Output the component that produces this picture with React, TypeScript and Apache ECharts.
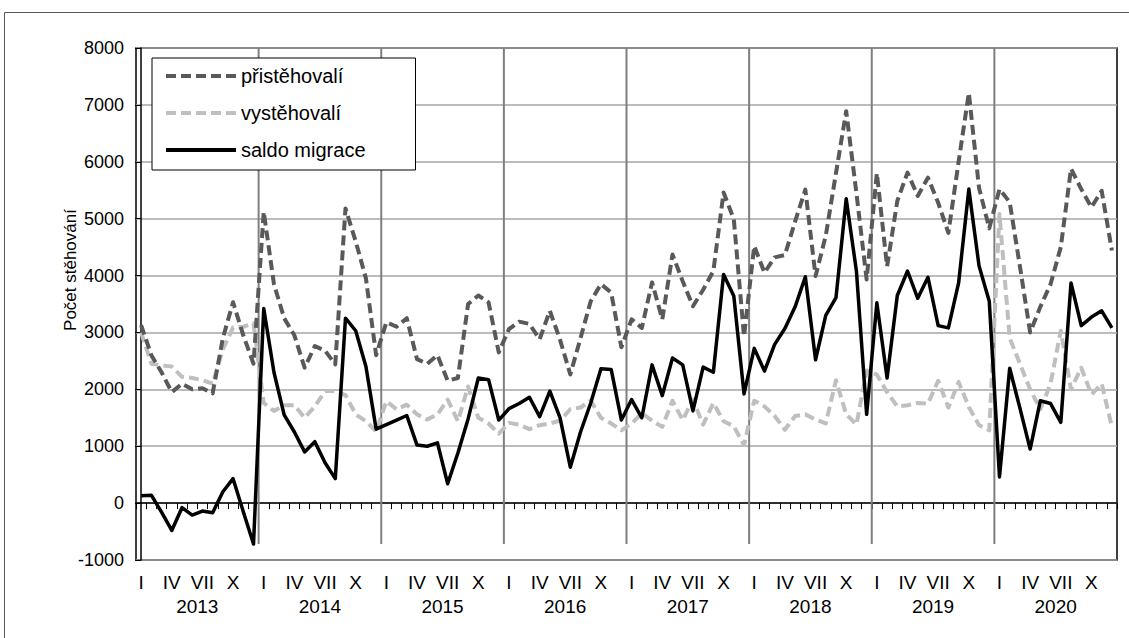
import React, { useEffect, useRef } from 'react';
import * as echarts from 'echarts';

const years = ['2013', '2014', '2015', '2016', '2017', '2018', '2019', '2020'];
const monthLabels = ['I', '', '', 'IV', '', '', 'VII', '', '', 'X', '', ''];
const yTicks = { min: -1000, max: 8000, interval: 1000 };

const pristehovali = [
  3130, 2600, 2300, 1950, 2100, 2000, 2020, 1930, 2900, 3530, 2950, 2450,
  5120, 3850, 3250, 2950, 2380, 2760, 2680, 2440, 5180, 4600, 3950, 2600,
  3180, 3100, 3250, 2530, 2450, 2600, 2150, 2200, 3500, 3650, 3530, 2650,
  3060, 3190, 3150, 2880, 3380, 2870, 2260, 2900, 3550, 3850, 3700, 2740,
  3230, 3080, 3880, 3230, 4370, 3900, 3460, 3750, 4080, 5460, 4990, 2930,
  4520, 4050, 4320, 4360, 4950, 5510, 3990, 4700, 5800, 6890, 5450, 3930,
  5800, 4160, 5310, 5810, 5400, 5720, 5280, 4750, 6000, 7210, 5540, 4830,
  5520, 5290, 4160, 3000, 3450, 3850, 4500, 5880, 5520, 5200, 5490, 4440,
];

const vystehovali = [
  3000, 2450, 2420, 2400, 2220, 2200, 2160, 2100, 2700, 3090, 3100, 3160,
  1760, 1620, 1720, 1720, 1500, 1700, 1970, 1970, 1900, 1560, 1440, 1260,
  1790, 1650, 1730, 1560, 1470, 1560, 1820, 1440, 2050, 1500, 1400, 1220,
  1410, 1380, 1300, 1370, 1400, 1450, 1650, 1680, 1800, 1500, 1400, 1280,
  1400, 1580, 1450, 1340, 1800, 1460, 1820, 1380, 1760, 1440, 1350, 1020,
  1800, 1700, 1530, 1290, 1530, 1560, 1470, 1400, 2160, 1560, 1380, 2330,
  2260, 1950, 1700, 1720, 1760, 1750, 2150, 1680, 2130, 1690, 1370, 1280,
  5080, 2900, 2450, 2000, 1650, 2100, 3030, 2000, 2380, 1910, 2100, 1340,
];

const saldo = [
  130, 140, -160, -480, -80, -210, -140, -170, 200, 430, -150, -720,
  3420, 2300, 1550, 1250, 900, 1080, 710, 430, 3250, 3030, 2400, 1300,
  1380, 1460, 1540, 1020, 1000, 1060, 340, 880, 1480, 2200, 2170, 1460,
  1660, 1750, 1860, 1520, 1970, 1500, 630, 1250, 1760, 2360, 2350, 1460,
  1820, 1500, 2430, 1890, 2550, 2430, 1620, 2390, 2300, 4020, 3640, 1920,
  2720, 2320, 2790, 3070, 3450, 3980, 2520, 3300, 3610, 5350, 4080, 1560,
  3520, 2200, 3650, 4080, 3600, 3970, 3120, 3080, 3870, 5520, 4170, 3550,
  460, 2370, 1670, 950, 1800, 1750, 1420, 3870, 3120, 3270, 3380, 3080,
];

const FONT = 'Liberation Sans, Arial, sans-serif';

export default function App() {
  const ref = useRef<HTMLDivElement>(null);

  useEffect(() => {
    document.body.style.margin = '0';
    const chart = echarts.init(ref.current!, null, { renderer: 'svg' });
    const categories = years.flatMap((y) => monthLabels.map((_, m) => `${y}-${m + 1}`));
    const boundaries = years.slice(1).map((_, k) => 12 * (k + 1) - 0.5);

    const boundarySeries = boundaries.map((b, k) => ({
      name: `hranice${k}`,
      type: 'line',
      xAxisIndex: 3,
      yAxisIndex: 0,
      data: [
        [b, yTicks.max],
        [b, -720],
      ],
      symbol: 'none',
      silent: true,
      z: 1,
      lineStyle: { color: '#7f7f7f', width: 2 },
    }));

    const dash = [10, 5];

    const option: any = {
      animation: false,
      backgroundColor: '#ffffff',
      textStyle: { fontFamily: FONT },
      grid: {
        left: 136,
        right: 12,
        top: 48,
        bottom: 78,
        show: true,
        borderColor: '#000000',
        borderWidth: 1.5,
        backgroundColor: 'transparent',
      },
      legend: {
        data: [
          { name: 'přistěhovalí', lineStyle: { width: 4 } },
          { name: 'vystěhovalí', lineStyle: { width: 4 } },
          { name: 'saldo migrace', lineStyle: { width: 4 } },
        ],
        orient: 'vertical',
        left: 152,
        top: 58,
        itemWidth: 70,
        itemHeight: 20,
        itemGap: 17,
        padding: [8, 50, 10, 12],
        backgroundColor: '#ffffff',
        borderColor: '#000000',
        borderWidth: 1,
        borderRadius: 0,
        itemStyle: { opacity: 0, color: 'rgba(0,0,0,0)', borderWidth: 0 },
        textStyle: { fontSize: 20, color: '#000000', fontFamily: FONT },
      },
      xAxis: [
        {
          type: 'category',
          data: categories,
          boundaryGap: true,
          axisLine: { onZero: true, lineStyle: { color: '#000000', width: 1.5 } },
          axisTick: { show: true, interval: 0, length: 6, lineStyle: { color: '#000000', width: 1 } },
          axisLabel: { show: false },
          splitLine: { show: false },
        },
        {
          type: 'category',
          data: categories,
          position: 'bottom',
          boundaryGap: true,
          axisLine: { show: false, onZero: false },
          axisTick: { show: false },
          axisLabel: {
            interval: 0,
            margin: 13,
            fontSize: 19,
            color: '#000000',
            fontFamily: FONT,
            formatter: (_v: string, i: number) => monthLabels[i % 12],
          },
          splitLine: { show: false },
        },
        {
          type: 'category',
          data: years,
          position: 'bottom',
          boundaryGap: true,
          axisLine: { show: false, onZero: false },
          axisTick: { show: false },
          axisLabel: { interval: 0, margin: 37, fontSize: 19, color: '#000000', fontFamily: FONT },
          splitLine: { show: false },
        },
        {
          type: 'value',
          min: -0.5,
          max: categories.length - 0.5,
          show: false,
          splitLine: { show: false },
        },
      ],
      yAxis: {
        type: 'value',
        min: yTicks.min,
        max: yTicks.max,
        interval: yTicks.interval,
        axisLine: { show: true, lineStyle: { color: '#000000', width: 1.5 } },
        axisTick: { show: true, length: 6, lineStyle: { color: '#000000' } },
        axisLabel: {
          fontSize: 18,
          color: '#000000',
          margin: 12,
          fontFamily: FONT,
          formatter: (v: number) => String(v),
        },
        splitLine: { show: true, lineStyle: { color: '#a6a6a6', width: 1.5 } },
      },
      graphic: [
        {
          type: 'rect',
          silent: true,
          z: -10,
          shape: { x: 4.5, y: 12.5, width: 1200, height: 700 },
          style: { fill: 'none', stroke: '#595959', lineWidth: 1 },
        },
        {
          type: 'text',
          x: 70,
          y: 270,
          rotation: Math.PI / 2,
          style: {
            text: 'Počet stěhování',
            fontSize: 17,
            fontFamily: FONT,
            fill: '#000000',
            align: 'center',
            verticalAlign: 'middle',
          },
        },
      ],
      series: [
        ...boundarySeries,
        {
          name: 'vystěhovalí',
          type: 'line',
          xAxisIndex: 0,
          data: vystehovali,
          symbol: 'none',
          z: 3,
          lineStyle: { color: '#bfbfbf', width: 4, type: dash, cap: 'butt', join: 'round' },
          itemStyle: { color: '#bfbfbf' },
        },
        {
          name: 'přistěhovalí',
          type: 'line',
          xAxisIndex: 0,
          data: pristehovali,
          symbol: 'none',
          z: 4,
          lineStyle: { color: '#595959', width: 4, type: dash, cap: 'butt', join: 'round' },
          itemStyle: { color: '#595959' },
        },
        {
          name: 'saldo migrace',
          type: 'line',
          xAxisIndex: 0,
          data: saldo,
          symbol: 'none',
          z: 5,
          lineStyle: { color: '#000000', width: 3.5, join: 'round' },
          itemStyle: { color: '#000000' },
        },
      ],
    };

    chart.setOption(option);
    return () => chart.dispose();
  }, []);

  return <div ref={ref} style={{ width: 1129, height: 638 }} />;
}
